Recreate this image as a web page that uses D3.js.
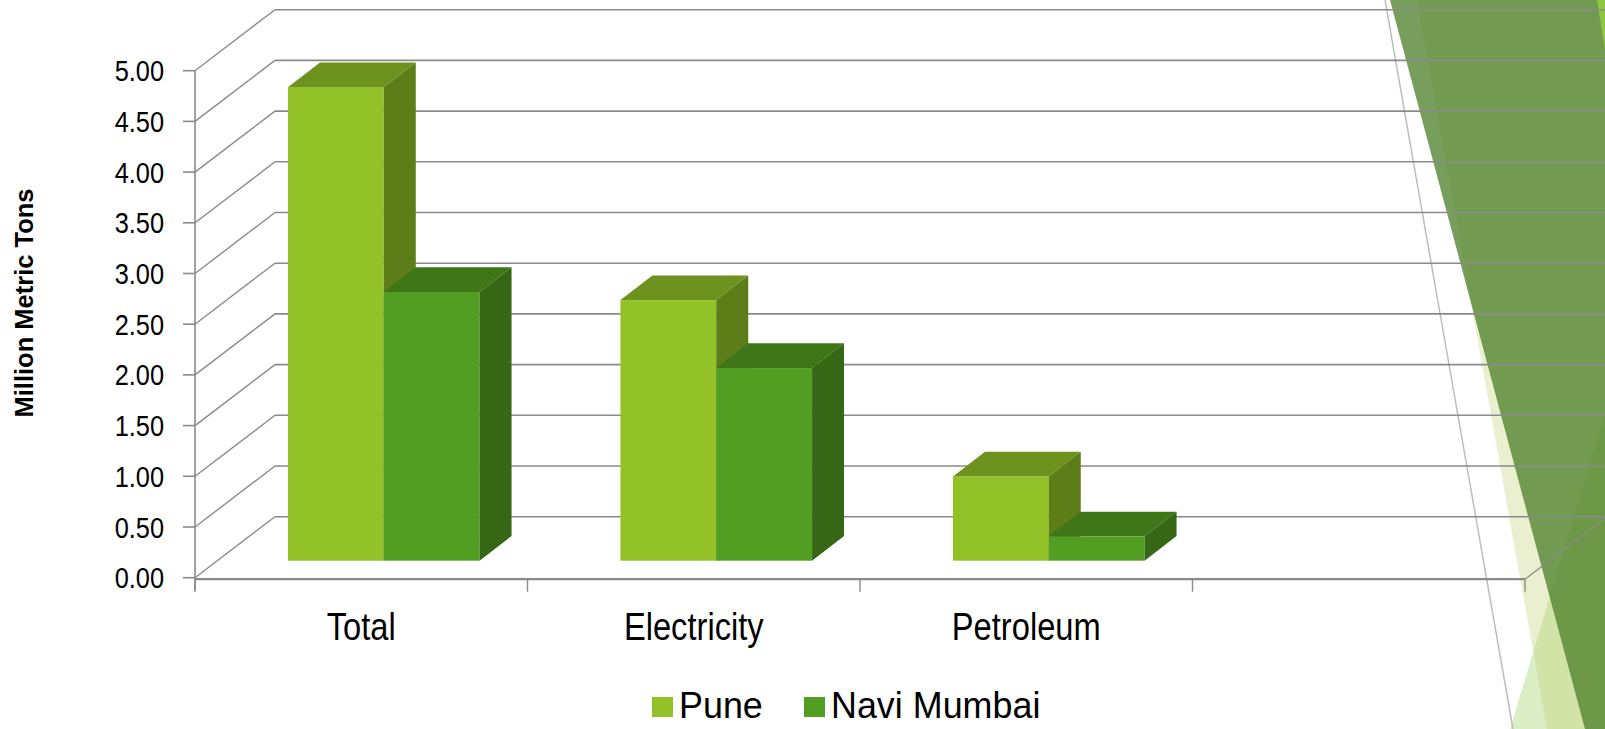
<!DOCTYPE html>
<html>
<head>
<meta charset="utf-8">
<script src="https://cdn.jsdelivr.net/npm/d3@7"></script>
<style>
  body { margin: 0; background: #fff; overflow: hidden; }
  svg { display: block; }
  text { font-family: "Liberation Sans", Arial, sans-serif; fill: #000; }
</style>
</head>
<body>
<svg width="1605" height="729"></svg>
<script>
'use strict'

// data
const categories = ['Total', 'Electricity', 'Petroleum', ''];
const seriesNames = ['Pune', 'Navi Mumbai'];
const puneValues = [4.67, 2.57, 0.83];
const naviMumbaiValues = [2.65, 1.90, 0.24];
const yTickValues = [0, 0.5, 1, 1.5, 2, 2.5, 3, 3.5, 4, 4.5, 5];
const yTitle = 'Million Metric Tons';

const seriesValues = [puneValues, naviMumbaiValues];
const frontColors = ['#92c228', '#529e22'];
const topColors = ['#6e921e', '#3f7618'];
const sideColors = ['#5d7d18', '#366715'];

// 3d geometry
const DX = 80, DY = -61;        // floor / wall depth
const OX = 22.5, OY = -17;      // bar front plane offset
const BDX = 32, BDY = -24.7;    // bar depth
const GRID = '#8a8a8a';

const svg = d3.select('svg');
const width = 1605;
const height = 729;

const x0 = d3.scaleBand().domain(categories).range([195, 1525]);
const barW = 95.8;
const x1 = d3.scaleBand().domain(seriesNames)
  .range([x0.bandwidth() / 2 - barW, x0.bandwidth() / 2 + barW]);
const y = d3.scaleLinear().domain([0, 5]).range([577.7, 70.7]);

const pts = p => 'M' + p.map(d => d.join(',')).join('L') + 'Z';

// slide decoration on the right
const deco = svg.append('g');
deco.append('path')
  .attr('d', pts([[1510, 729], [1605, 414], [1605, 729]]))
  .attr('fill', '#8cc63f').attr('fill-opacity', 0.3);
deco.append('path')
  .attr('d', pts([[1417, 0], [1605, 0], [1605, 729], [1547, 729]]))
  .attr('fill', '#becd6e').attr('fill-opacity', 0.33);
deco.append('path')
  .attr('d', pts([[1390, 0], [1605, 0], [1605, 729], [1585, 729]]))
  .attr('fill', '#4e812b').attr('fill-opacity', 0.77);
deco.append('path')
  .attr('d', pts([[1597, 0], [1605, 0], [1605, 50]]))
  .attr('fill', '#8dc63f');
deco.append('line')
  .attr('x1', 1385).attr('y1', 0).attr('x2', 1513).attr('y2', 729)
  .attr('stroke', '#bdbdbd').attr('stroke-width', 1.5);

// walls and floor
const walls = svg.append('g').attr('stroke', GRID).attr('fill', 'none');
const x0L = x0.range()[0], x0R = x0.range()[1];

yTickValues.forEach(v => {
  walls.append('line')
    .attr('x1', x0L).attr('y1', y(v)).attr('x2', x0L + DX).attr('y2', y(v) + DY)
    .attr('stroke-width', 1.4);
  walls.append('line')
    .attr('x1', x0L + DX).attr('y1', y(v) + DY).attr('x2', width).attr('y2', y(v) + DY)
    .attr('stroke-width', 1.6);
});
walls.append('line')
  .attr('x1', x0R).attr('y1', y(0) + 1.5).attr('x2', x0R + DX).attr('y2', y(0) + 1.5 + DY)
  .attr('stroke-width', 1.4);
walls.append('line')
  .attr('x1', x0L).attr('y1', y(0) + 1.5).attr('x2', x0R).attr('y2', y(0) + 1.5)
  .attr('stroke-width', 2.2);

// y axis
walls.append('line')
  .attr('x1', x0L).attr('y1', y(5)).attr('x2', x0L).attr('y2', y(0) + 13)
  .attr('stroke-width', 1.6);
yTickValues.forEach(v => {
  walls.append('line')
    .attr('x1', x0L - 12).attr('y1', y(v)).attr('x2', x0L).attr('y2', y(v))
    .attr('stroke-width', 1.6);
});
// category ticks
categories.concat(['end']).forEach((c, i) => {
  const xx = x0L + i * x0.bandwidth();
  walls.append('line')
    .attr('x1', xx).attr('y1', y(0) + 1.5).attr('x2', xx).attr('y2', y(0) + 14)
    .attr('stroke-width', 1.4);
});

// bars
const bars = svg.append('g');
seriesNames.forEach((s, si) => {
  seriesValues[si].forEach((v, ci) => {
    const xl = x0(categories[ci]) + x1(s) + OX;
    const xr = xl + x1.bandwidth();
    const yt = y(v) + OY;
    const yb = y(0) + OY;
    const g = bars.append('g');
    g.append('rect')
      .attr('x', xl).attr('y', yt).attr('width', xr - xl).attr('height', yb - yt)
      .attr('fill', frontColors[si]);
    g.append('path')
      .attr('d', pts([[xl, yt], [xl + BDX, yt + BDY], [xr + BDX, yt + BDY], [xr, yt]]))
      .attr('fill', topColors[si]);
    g.append('path')
      .attr('d', pts([[xr, yt], [xr + BDX, yt + BDY], [xr + BDX, yb + BDY], [xr, yb]]))
      .attr('fill', sideColors[si]);
  });
});

// y tick labels
yTickValues.forEach(v => {
  svg.append('text')
    .attr('transform', `translate(164,${y(v) + 10.5}) scale(0.86,1)`)
    .attr('text-anchor', 'end')
    .attr('font-size', 29.5)
    .text(d3.format('.2f')(v));
});

// axis title
svg.append('text')
  .attr('transform', 'translate(33,303) rotate(-90)')
  .attr('text-anchor', 'middle')
  .attr('font-size', 25.5)
  .attr('font-weight', 'bold')
  .text(yTitle);

// category labels
categories.forEach(c => {
  if (!c) return;
  svg.append('text')
    .attr('transform', `translate(${x0(c) + x0.bandwidth() / 2},640) scale(0.86,1)`)
    .attr('text-anchor', 'middle')
    .attr('font-size', 38)
    .text(c);
});

// legend
const legendX = [652, 804];
seriesNames.forEach((s, i) => {
  svg.append('rect')
    .attr('x', legendX[i]).attr('y', 697).attr('width', 21).attr('height', 20)
    .attr('fill', frontColors[i]);
  svg.append('text')
    .attr('transform', `translate(${legendX[i] + 27},718) scale(0.97,1)`)
    .attr('font-size', 37)
    .text(s);
});
</script>
</body>
</html>
